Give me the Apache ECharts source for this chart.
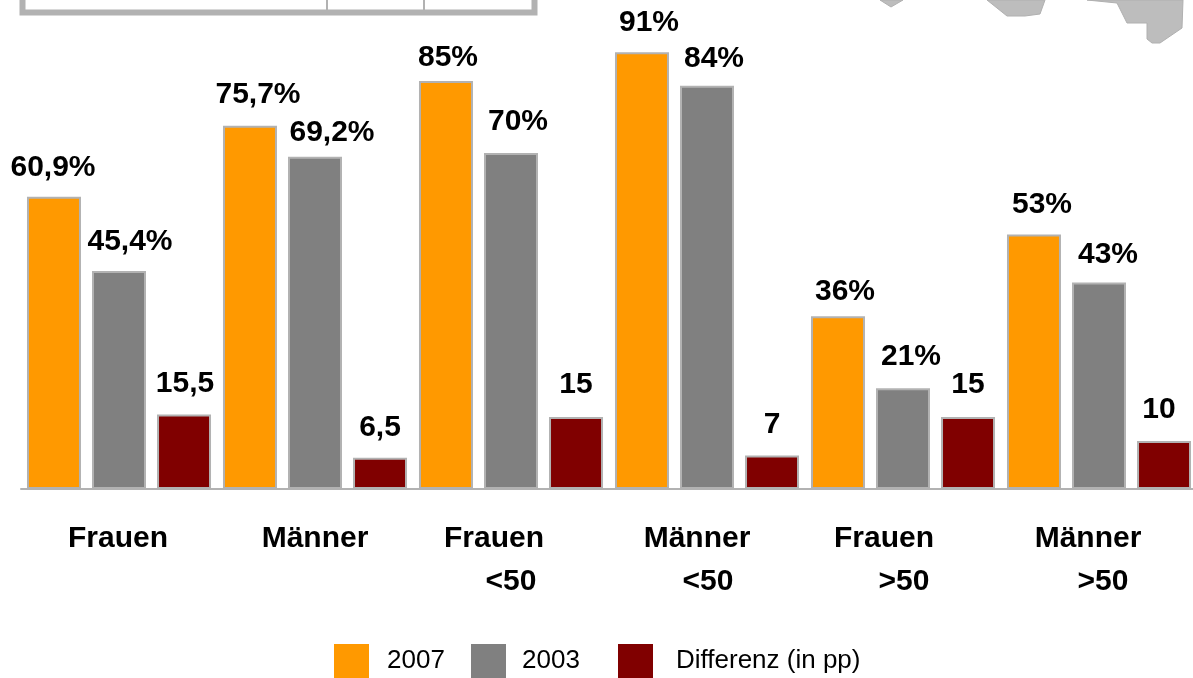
<!DOCTYPE html>
<html>
<head>
<meta charset="utf-8">
<title>Frauen und Männer 2007 / 2003</title>
<script src="https://cdn.jsdelivr.net/npm/echarts@6/dist/echarts.min.js"></script>
<style>
	html, body { margin: 0; padding: 0; background: #fff; overflow: hidden; }
	/* a bit wider than the window: the axis runs off the right edge */
	#charts { width: 1200px; height: 678px; }
</style>
</head>
<body>
<div id="charts"></div>
<script>
// 数据
var categories = ['Frauen', 'Männer', 'Frauen\n<50', 'Männer\n<50', 'Frauen\n>50', 'Männer\n>50'];
var values2007 = [60.9, 75.7, 85, 91, 36, 53];
var values2003 = [45.4, 69.2, 70, 84, 21, 43];
var valuesDiff = [15.5, 6.5, 15, 7, 15, 10];

// the labels in the picture sit a little off their bars
var offset2007 = [[-1, 0], [8, -2], [2, 6], [7, 0], [7, 5], [8, -1]];
var offset2003 = [[11, 0], [17, 5], [7, -2], [7, 2], [8, -2], [9, 1]];
var offsetDiff = [[1, -2], [0, -1], [0, -3], [0, -2], [0, -3], [-5, -2]];

var fontName = '"Liberation Sans", Arial, sans-serif';
var frameColor = '#b2b2b2';

function germanNumber(v) {
	return String(v).replace('.', ',');
}

function makeSeries(name, color, values, offsets, suffix) {
	return {
		name: name,
		type: 'bar',
		barWidth: 54,
		barGap: '20.4%',
		itemStyle: { color: color, borderColor: frameColor, borderWidth: 2 },
		label: {
			show: true,
			position: 'top',
			distance: 14,
			color: '#000',
			fontFamily: fontName,
			fontWeight: 'bold',
			fontSize: 30,
			formatter: function (p) {
				return germanNumber(p.value) + suffix;
			}
		},
		data: values.map(function (v, i) {
			return { value: v, label: { offset: offsets[i] } };
		})
	};
}

function makeLegend(name, left, textGap) {
	return {
		data: [name],
		left: left,
		top: 644,
		padding: 0,
		icon: 'rect',
		itemWidth: 35,
		itemHeight: 34,
		selectedMode: false,
		itemStyle: { borderWidth: 0 },
		textStyle: {
			color: '#000',
			fontFamily: fontName,
			fontSize: 26,
			padding: [0, 0, 0, textGap]
		}
	};
}

function richLine(style) {
	style.fontFamily = fontName;
	style.fontWeight = 'bold';
	style.fontSize = 30;
	style.color = '#000';
	style.lineHeight = 43;
	return style;
}

// per-label shift of the two lines under the axis
var labelRich = {
	a0: richLine({ padding: [0, 2, 0, 0] }),
	a1: richLine({ padding: [0, 0, 0, 0] }),
	a2: richLine({ padding: [0, 34, 0, 0] }),
	b2: richLine({ padding: [0, 0, 0, 0] }),
	a3: richLine({ padding: [0, 20, 0, 0] }),
	b3: richLine({ padding: [0, 0, 0, 2] }),
	a4: richLine({ padding: [0, 38, 0, 0] }),
	b4: richLine({ padding: [0, 0, 0, 2] }),
	a5: richLine({ padding: [0, 22, 0, 0] }),
	b5: richLine({ padding: [0, 0, 0, 8] })
};

// cut-off table and map pieces at the top edge
var decoration = [
	{ type: 'rect', shape: { x: 22.5, y: -10, width: 512, height: 22.5 }, style: { fill: 'none', stroke: frameColor, lineWidth: 6 } },
	{ type: 'line', shape: { x1: 327, y1: 0, x2: 327, y2: 12 }, style: { stroke: frameColor, lineWidth: 2 } },
	{ type: 'line', shape: { x1: 424, y1: 0, x2: 424, y2: 12 }, style: { stroke: frameColor, lineWidth: 2 } },
	{ type: 'polygon', shape: { points: [[880, 0], [891, 7], [903, 0]] }, style: { fill: '#bdbdbd', stroke: '#b0b0b0' } },
	{ type: 'polygon', shape: { points: [[987, 0], [1007, 16], [1025, 16], [1040, 14], [1045, 0]] }, style: { fill: '#bdbdbd', stroke: '#b0b0b0' } },
	{ type: 'polygon', shape: { points: [[1087, 0], [1117, 3], [1127, 23], [1147, 23], [1147, 39], [1152, 43], [1160, 43], [1182, 28], [1183, 0]] }, style: { fill: '#bdbdbd', stroke: '#b0b0b0' } }
];

var myChart = echarts.init(document.getElementById('charts'));

var option = {
	animation: false,
	backgroundColor: '#fff',
	grid: { left: 21, top: 9, width: 1176, height: 480 },
	legend: [
		makeLegend('2007', 334, 13),
		makeLegend('2003', 471, 11),
		makeLegend('Differenz (in pp)', 618, 18)
	],
	xAxis: {
		type: 'category',
		data: categories,
		axisTick: { show: false },
		axisLine: { lineStyle: { color: frameColor, width: 2 } },
		axisLabel: {
			interval: 0,
			margin: 28,
			hideOverlap: false,
			formatter: function (v, i) {
				var parts = v.split('\n');
				var text = '{a' + i + '|' + parts[0] + '}';
				if (parts[1]) {
					text += '\n{b' + i + '|' + parts[1] + '}';
				}
				return text;
			},
			rich: labelRich
		}
	},
	yAxis: { type: 'value', min: 0, max: 100, show: false },
	series: [
		makeSeries('2007', '#ff9900', values2007, offset2007, '%'),
		makeSeries('2003', '#808080', values2003, offset2003, '%'),
		makeSeries('Differenz (in pp)', '#800000', valuesDiff, offsetDiff, '')
	],
	graphic: decoration
};

myChart.setOption(option);
</script>
</body>
</html>
